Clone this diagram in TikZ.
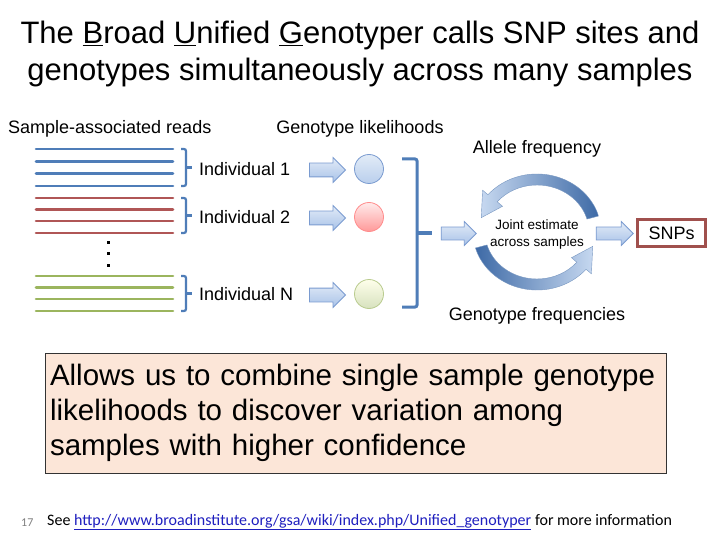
\documentclass[tikz,border=0pt]{standalone}
\usepackage{fontspec}
\setmainfont{Liberation Sans}
\newfontfamily\footfont{Carlito}
\usetikzlibrary{shapes.arrows,positioning}
\definecolor{readblue}{HTML}{4F7DB8}
\definecolor{readred}{HTML}{B05656}
\definecolor{readgreen}{HTML}{9BB55E}
\definecolor{arrowtop}{HTML}{E2EBF7}
\definecolor{arrowbot}{HTML}{A8C2E8}
\definecolor{arrowline}{HTML}{7A9BD0}
\definecolor{cycdark}{HTML}{3E6AA6}
\definecolor{cyclight}{HTML}{C6D8F0}
\definecolor{snpred}{HTML}{A0504D}
\definecolor{notefill}{HTML}{FCE6D8}
\definecolor{urlblue}{HTML}{1F1FBF}
\begin{document}
\begin{tikzpicture}[x=1pt, y=-1pt,
  read/.style={line width=2.6pt, line cap=round},
  brk/.style={draw=readblue, line width=2.2pt, rounded corners=2pt},
  lbl/.style={font=\fontsize{18}{20}\selectfont, inner sep=0pt},
  blockarrow/.style={single arrow, draw=arrowline, top color=arrowtop, bottom color=arrowbot,
    minimum height=36pt, inner xsep=0pt, inner ysep=6.5pt, single arrow head extend=5.5pt, line width=0.8pt},
  lik/.style={circle, minimum size=29pt, inner sep=0pt, line width=0.8pt}]
\useasboundingbox (0,0) rectangle (720,540);
\fill[white] (0,0) rectangle (720,540);
% title
\node[align=center, font=\fontsize{31}{37}\selectfont] (title) at (360,54)
  {The \underline{B}road \underline{U}nified \underline{G}enotyper calls SNP sites and\\genotypes simultaneously across many samples};
\node[lbl, anchor=west] (reads) at (8,129) {Sample-associated reads};
\node[lbl] (gl) at (360,129) {Genotype likelihoods};
% reads
\foreach \y in {149,161.3,173.5,186} \draw[read, readblue] (36,\y) -- (173,\y);
\foreach \y in {198,209.5,221,233} \draw[read, readred] (36,\y) -- (173,\y);
\foreach \y in {276,287.5,299,311} \draw[read, readgreen] (36,\y) -- (173,\y);
\foreach \y in {242,253,265} \fill (106.5,\y-1.5) rectangle +(3,3);
% braces
\foreach \t/\b in {149/186, 198/233, 276/311} {
  \draw[brk] (181,\t) -- (186,\t) -- (186,\b) -- (181,\b);
  \draw[brk] (186,{(\t+\b)/2}) -- (192,{(\t+\b)/2});
}
\node[lbl, anchor=west] (ind1) at (199,169) {Individual 1};
\node[lbl, anchor=west] (ind2) at (199,217) {Individual 2};
\node[lbl, anchor=west] (indn) at (199,294) {Individual N};
\node[blockarrow] (a1) at (324,170) {};
\node[blockarrow] (a2) at (324,218) {};
\node[blockarrow] (a3) at (324,295) {};
\node[lik, draw=arrowline, top color=arrowtop, bottom color=arrowbot!80] (gl1) at (369,169) {};
\node[lik, draw=red!45, top color=red!8, bottom color=red!40] (gl2) at (369,217) {};
\node[lik, draw=readgreen!70, top color=green!4!yellow!8, bottom color=readgreen!40] (gl3) at (369,294) {};
% combine
\draw[brk, line width=3pt] (402,159) -- (417,159) -- (417,307) -- (402,307);
\draw[brk, line width=3pt] (417,233) -- (432,233);
\node[blockarrow, minimum height=35pt, inner ysep=6pt] (a4) at (455.5,233.5) {};
\node[align=center, font=\fontsize{13.5}{17}\selectfont] (joint) at (537,234.5) {Joint estimate\\across samples};
\node[blockarrow, minimum height=37pt, inner ysep=6pt] (a5) at (611.5,233.5) {};
\node[draw=snpred, line width=3pt, minimum width=68pt, minimum height=27pt, font=\fontsize{18}{20}\selectfont] (snp) at (671.5,233) {SNPs};
\node[lbl] (af) at (537,149) {Allele frequency};
\node[lbl] (gf) at (537,316) {Genotype frequencies};
% cycle
\begin{scope}[shift={(537,232)}]
\shade[left color=cyclight, right color=cycdark, draw=cycdark!70, line width=0.4pt]
  (-16:64 and 58) arc[start angle=-16, end angle=-140, x radius=64, y radius=58] -- (-140:71 and 65)
  -- (-164:58 and 52) -- (-140:45 and 40) -- (-140:52 and 47)
  arc[start angle=-140, end angle=-16, x radius=52, y radius=47] -- cycle;
\shade[left color=cycdark, right color=cyclight, draw=cycdark!70, line width=0.4pt]
  (164:64 and 58) arc[start angle=164, end angle=40, x radius=64, y radius=58] -- (40:71 and 65)
  -- (16:58 and 52) -- (40:45 and 40) -- (40:52 and 47)
  arc[start angle=40, end angle=164, x radius=52, y radius=47] -- cycle;
\end{scope}
% note
\node[draw=black!80, fill=notefill, line width=0.8pt, minimum height=120pt, text width=611pt,
  inner xsep=5pt, align=left, font=\fontsize{29.5}{35}\selectfont] (note) at (355.5,413)
  {Allows us to combine single sample genotype\\likelihoods to discover variation among\\samples with higher confidence};
% footer
\node[font=\footfont\fontsize{12}{14}\selectfont, text=gray, anchor=west, inner sep=0pt] (page) at (21,523) {17};
\node[font=\footfont\fontsize{16}{18}\selectfont, anchor=west, inner sep=0pt] (see) at (47,522)
  {See \textcolor{urlblue}{\underline{http://www.broadinstitute.org/gsa/wiki/index.php/Unified\_genotyper}} for more information};
\end{tikzpicture}
\end{document}
